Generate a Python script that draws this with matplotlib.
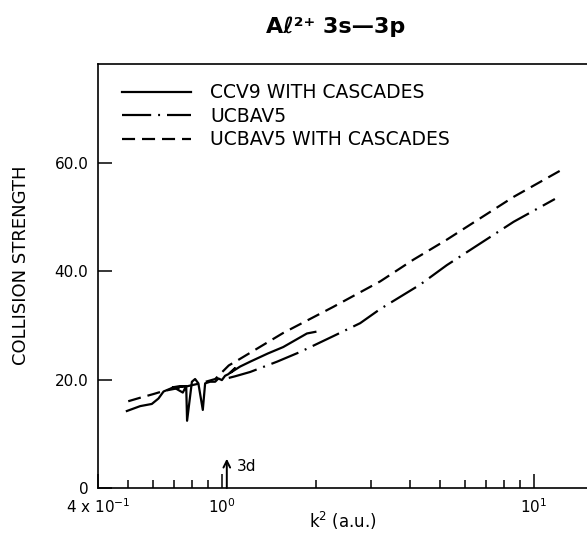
import matplotlib
matplotlib.use('Agg')
import matplotlib.pyplot as plt
from matplotlib.ticker import FixedLocator, FixedFormatter, NullFormatter

plt.rcParams['font.family'] = ['DejaVu Sans']
plt.rcParams['lines.scale_dashes'] = False

ccv9_k2 = [0.495, 0.546, 0.595, 0.625, 0.649, 0.681, 0.698, 0.748, 0.767, 0.698,
           0.767, 0.772, 0.800, 0.819, 0.839, 0.867, 0.882, 0.915, 0.950, 0.973,
           0.998, 1.022, 1.047, 1.100, 1.066, 1.142, 1.20, 1.23, 1.40, 1.57,
           1.87, 1.99]
ccv9_om = [14.2, 15.1, 15.5, 16.5, 17.8, 18.3, 18.6, 17.6, 18.8, 18.6,
           18.8, 12.4, 19.6, 20.1, 19.3, 14.4, 19.3, 19.6, 19.6, 20.2,
           19.9, 20.7, 21.0, 22.1, 21.3, 22.4, 23.0, 23.3, 24.8, 26.0,
           28.5, 28.8]

# UCBAV5 (dash-dot), starts at the 3d threshold
ucb_k2 = [1.05, 1.10, 1.23, 1.50, 1.78, 2.27, 2.77, 3.21, 4.31, 5.25, 8.60, 11.66]
ucb_om = [20.3, 20.6, 21.4, 23.3, 25.1, 28.0, 30.4, 33.0, 37.5, 41.1, 49.1, 53.3]

# UCBAV5 with cascades (dashed)
ucbc_k2 = [0.50, 0.55, 0.60, 0.65, 0.75, 0.85, 0.95, 1.05, 1.14, 1.57, 2.27, 3.21,
           4.10, 5.25, 8.60, 12.1]
ucbc_om = [16.0, 16.7, 17.3, 17.9, 18.6, 19.3, 20.1, 22.6, 23.8, 28.6, 33.4, 38.1,
           42.1, 45.8, 53.7, 58.5]

thresh_3d = 1.035

xmajor = [0.4, 1, 10]
xmajor_labels = [r'4 x $\mathregular{10^{-1}}$', r'$\mathregular{10^{0}}$', r'$\mathregular{10^{1}}$']
xminor = [0.5, 0.6, 0.7, 0.8, 0.9, 2, 3, 4, 5, 6, 7, 8, 9]
yticks = [0, 20, 40, 60]
ytick_labels = ['0', '20.0', '40.0', '60.0']

fig = plt.figure(figsize=(5.87, 5.35), dpi=100)
ax = fig.add_axes([98/587, 47/535, 530/587, 424/535])

ax.plot(ccv9_k2, ccv9_om, color='black', lw=1.6, ls='-', label='CCV9 WITH CASCADES')
ax.plot(ucb_k2, ucb_om, color='black', lw=1.6, ls=(0, (21, 5, 1.4, 5)), label='UCBAV5')
ax.plot(ucbc_k2, ucbc_om, color='black', lw=1.6, ls=(0, (9.4, 5)), label='UCBAV5 WITH CASCADES')

ax.set_xscale('log')
ax.set_xlim(0.4, 20)
ax.set_ylim(0, 78.2)

ax.xaxis.set_major_locator(FixedLocator(xmajor))
ax.xaxis.set_major_formatter(FixedFormatter(xmajor_labels))
ax.xaxis.set_minor_locator(FixedLocator(xminor))
ax.xaxis.set_minor_formatter(NullFormatter())
ax.set_yticks(yticks)
ax.set_yticklabels(ytick_labels)

ax.tick_params(axis='both', which='major', direction='in', length=10, width=1.1,
               labelsize=11, pad=7, top=False, right=False)
ax.tick_params(axis='x', which='minor', direction='in', length=5.8, width=1.1,
               top=False)
for sp in ax.spines.values():
    sp.set_linewidth(1.2)

# 3d threshold arrow
ax.annotate('', xy=(thresh_3d, 5.4), xytext=(thresh_3d, 0),
            arrowprops=dict(arrowstyle='->', lw=1.4, color='black',
                            shrinkA=0, shrinkB=0, mutation_scale=12))
ax.text(1.117, 3.9, '3d', fontsize=11, ha='left', va='center')

leg = ax.legend(loc='upper left', bbox_to_anchor=(0.0453, 0.955), frameon=False,
                fontsize=13.5, handlelength=3.7, handletextpad=1.0, labelspacing=0.25,
                borderpad=0, borderaxespad=0)

ax.set_xlabel(r'$\mathregular{k^{2}}$ (a.u.)', fontsize=12)
ax.xaxis.set_label_coords(0.462, -0.078)
ax.xaxis.label.set_va('center')
ax.set_ylabel('COLLISION STRENGTH', fontsize=13)
ax.yaxis.set_label_coords(-0.145, 0.526)
ax.yaxis.label.set_va('center')

fig.suptitle('A\u2113\u00b2\u207a 3s\u20143p', x=336/587, y=(535-27)/535, va='center',
             fontsize=16, fontweight='bold')

fig.savefig('out.png', dpi=100)
